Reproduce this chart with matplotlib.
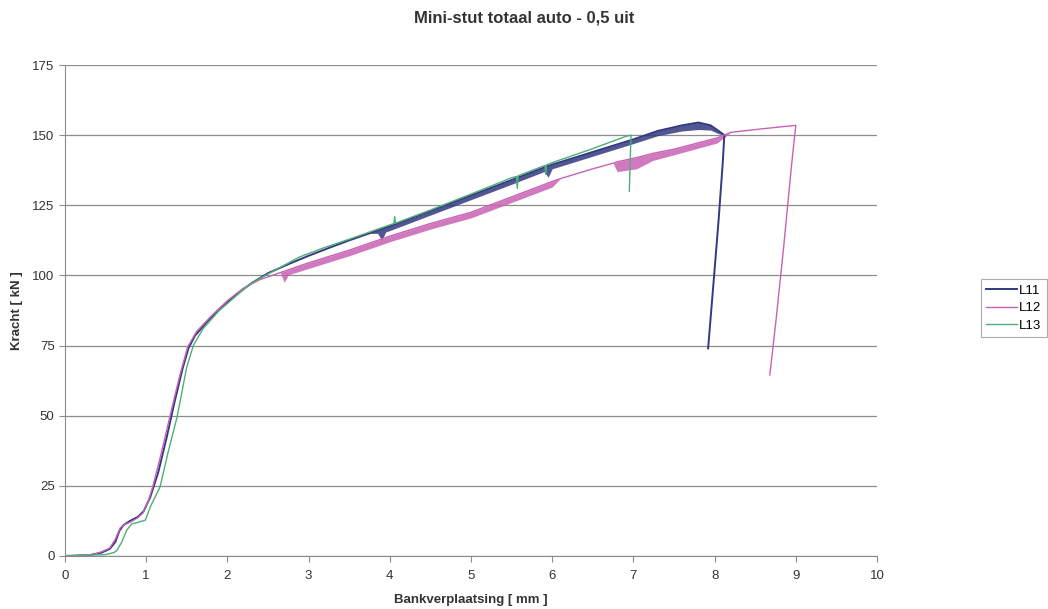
import matplotlib.pyplot as plt

plt.rcParams['font.family'] = ['Liberation Sans', 'DejaVu Sans']

# L11 - upper edge of the trace and lower edge of the noise band
l11_x = [0, 0.3, 0.45, 0.55, 0.62, 0.67, 0.72, 0.8, 0.9, 0.97, 1.05, 1.15, 1.25, 1.35, 1.45,
         1.52, 1.6, 1.75, 1.9, 2.1, 2.3, 2.5, 2.75, 3.0, 3.25, 3.5, 3.75, 3.85, 3.9, 3.95,
         4.0, 4.5, 5.0, 5.5, 5.9, 5.95, 6.0, 6.5, 7.0, 7.3, 7.6, 7.8, 7.95, 8.05, 8.12,
         8.1, 8.05, 7.98, 7.92]
l11_y = [0, 0.3, 1.2, 2.5, 5, 9, 11, 12.5, 14, 16, 21, 30, 42, 55, 67,
         74, 78.5, 83.5, 88, 93, 97.3, 100.8, 104, 107, 109.8, 112.5, 115, 116, 116.5, 117,
         117.5, 123, 128.5, 134, 138.5, 139, 139.5, 144, 148.5, 151.5, 153.5, 154.5, 153.5, 151.5, 150,
         140, 120, 95, 74]
l11_lo = [0, 0.3, 1.2, 2.5, 5, 9, 11, 12.5, 14, 16, 21, 30, 42, 55, 67,
          74, 78.5, 83.5, 88, 93, 97.3, 100.8, 104, 107, 109.8, 112.5, 115, 115, 112.5, 115.5,
          116, 121.5, 127, 132.5, 137, 135, 138, 142.5, 147, 149.8, 151.5, 152, 151.8, 150.5, 150,
          140, 120, 95, 74]

# L12
l12_x = [0, 0.35, 0.45, 0.55, 0.62, 0.68, 0.72, 0.8, 0.89, 0.96, 1.02, 1.08, 1.18, 1.29, 1.36,
         1.42, 1.51, 1.62, 1.79, 2.0, 2.2, 2.4, 2.65, 2.7, 2.75, 3.0, 3.5, 4.0, 4.5, 5.0,
         5.5, 6.0, 6.1, 6.5, 6.75, 6.8, 7.04, 7.24, 7.5, 8.03, 8.2, 8.6, 9.0,
         8.95, 8.85, 8.76, 8.68]
l12_y = [0, 0.5, 1.5, 2.8, 6, 10, 11, 12, 13.5, 15.3, 19, 24.6, 36, 49.5, 58,
         65, 74.5, 80, 85.2, 91, 95.5, 98.5, 101, 101.5, 102, 104.5, 109, 114, 118.5, 122.5,
         128, 133.5, 134.5, 138, 140, 140.5, 142, 143.5, 145, 149, 151, 152.3, 153.5,
         140, 110, 85, 64.5]
l12_lo = [0, 0.5, 1.5, 2.8, 6, 10, 11, 12, 13.5, 15.3, 19, 24.6, 36, 49.5, 58,
          65, 74.5, 80, 85.2, 91, 95.5, 98.5, 101, 97.5, 100.2, 102.5, 107, 112, 116.5, 120.5,
          126, 131.5, 134.5, 138, 140, 137, 138, 141, 143, 147.2, 151, 152.3, 153.5,
          140, 110, 85, 64.5]

# L13
l13_x = [0, 0.5, 0.6, 0.64, 0.7, 0.76, 0.82, 0.9, 0.99, 1.05, 1.17, 1.27, 1.38, 1.45, 1.5,
         1.58, 1.7, 1.9, 2.1, 2.28, 2.5, 2.89, 3.2, 3.51, 3.92, 4.05, 4.06, 4.07, 4.5, 5.0,
         5.5, 5.56, 5.57, 5.58, 5.91, 5.92, 5.93, 6.0, 6.5, 6.9, 6.97, 6.96, 6.95]
l13_y = [0, 0.5, 1.2, 2, 5, 9.2, 11.4, 12, 12.8, 17.5, 24.6, 37, 49.5, 60, 67.4,
         75, 81, 87.5, 92.5, 97, 100.5, 106.6, 110, 113, 117.2, 118.5, 121, 118.6, 123.3, 129,
         134.8, 135.3, 131, 135.5, 139.2, 136, 139.4, 140.2, 145.2, 149.5, 150, 140, 130]

series = [
    ('L11', l11_x, l11_y, l11_lo, '#343a80', 1.4),
    ('L12', l12_x, l12_y, l12_lo, '#c862b4', 1.0),
    ('L13', l13_x, l13_y, None, '#4fae78', 1.0),
]

fig = plt.figure(figsize=(10.48, 6.09), dpi=100)
ax = fig.add_axes([65 / 1048, 1 - 556 / 609, (877 - 65) / 1048, (556 - 65) / 609])

for name, xs, ys, lo, col, lw in series:
    if lo is not None:
        ax.fill_between(xs, lo, ys, color=col, alpha=0.85, linewidth=0)
    ax.plot(xs, ys, color=col, linewidth=lw, label=name)

ax.set_xlim(0, 10)
ax.set_ylim(0, 175)
ax.set_xticks(range(0, 11))
ax.set_yticks(range(0, 176, 25))
ax.yaxis.grid(True, color='#8c8c8c', linewidth=0.9)
ax.set_axisbelow(True)
for s in ['top', 'right']:
    ax.spines[s].set_visible(False)
for s in ['left', 'bottom']:
    ax.spines[s].set_color('#8c8c8c')
ax.tick_params(axis='both', colors='#8c8c8c', labelcolor='#333333', labelsize=9.5, length=4)
ax.tick_params(axis='x', pad=6)

ax.set_xlabel('Bankverplaatsing [ mm ]', fontsize=9.5, fontweight='bold', color='#333333', labelpad=9)
ax.set_ylabel('Kracht [ kN ]', fontsize=9.5, fontweight='bold', color='#333333', labelpad=7)
fig.text(0.5, 1 - 18 / 609, 'Mini-stut totaal auto - 0,5 uit', ha='center', va='center',
         fontsize=12, fontweight='bold', color='#333333')

leg = fig.legend(loc='center left', bbox_to_anchor=(981 / 1048, 1 - 308 / 609), fontsize=9.5,
                 frameon=True, fancybox=False, handlelength=2.3, handletextpad=0.2,
                 borderpad=0.4, labelspacing=0.4, borderaxespad=0)
leg.get_frame().set_edgecolor('#999999')
leg.get_frame().set_linewidth(0.8)

fig.savefig('out.png', dpi=100)
